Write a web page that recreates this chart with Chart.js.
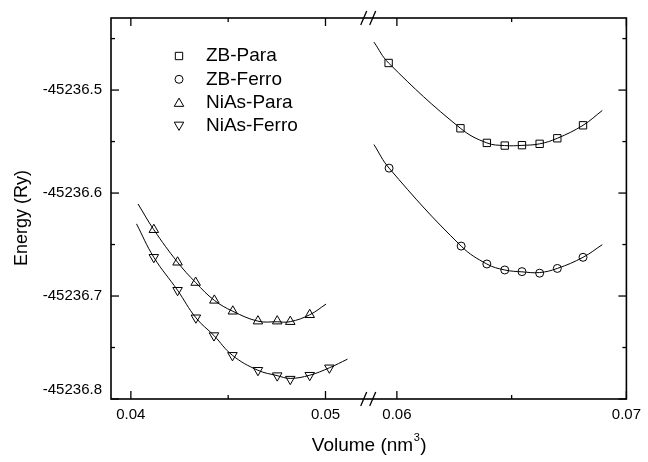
<!DOCTYPE html>
<html><head><meta charset="utf-8">
<script src="https://cdn.jsdelivr.net/npm/chart.js@4.4.1/dist/chart.umd.min.js"></script>
<style>html,body{margin:0;padding:0;background:#fff}</style>
</head><body>
<canvas id="c" width="648" height="462"></canvas>
<script>
// ---- data ----
const seriesNames = ['ZB-Para', 'ZB-Ferro', 'NiAs-Para', 'NiAs-Ferro'];

const zbParaV  = [0.05964, 0.06277, 0.06392, 0.06470, 0.06545, 0.06622, 0.06699, 0.06811];
const zbParaE  = [-45236.4737, -45236.5371, -45236.5513, -45236.5539, -45236.5535, -45236.5522, -45236.5468, -45236.5342];
const zbFerroV = [0.05966, 0.06280, 0.06392, 0.06470, 0.06545, 0.06622, 0.06699, 0.06811];
const zbFerroE = [-45236.5758, -45236.6515, -45236.6689, -45236.6747, -45236.6763, -45236.6778, -45236.6732, -45236.6624];
const niasParaV  = [0.04118, 0.04240, 0.04333, 0.04429, 0.04524, 0.04653, 0.04752, 0.04819, 0.04919];
const niasParaE  = [-45236.6356, -45236.6672, -45236.6869, -45236.7042, -45236.7148, -45236.7244, -45236.7244, -45236.7249, -45236.7182];
const niasFerroV = [0.04118, 0.04240, 0.04334, 0.04427, 0.04522, 0.04653, 0.04752, 0.04819, 0.04919, 0.05020];
const niasFerroE = [-45236.6624, -45236.6944, -45236.7211, -45236.7384, -45236.7576, -45236.7721, -45236.7773, -45236.7807, -45236.7769, -45236.7697];

// fitted curves
const zbParaFitV  = [0.05900, 0.05964, 0.06277, 0.06392, 0.06470, 0.06545, 0.06622, 0.06699, 0.06811, 0.06895];
const zbParaFitE  = [-45236.4534, -45236.4737, -45236.5371, -45236.5513, -45236.5539, -45236.5537, -45236.5522, -45236.5468, -45236.5342, -45236.5198];
const zbFerroFitV = [0.05900, 0.05966, 0.06280, 0.06392, 0.06470, 0.06545, 0.06622, 0.06699, 0.06811, 0.06895];
const zbFerroFitE = [-45236.5529, -45236.5758, -45236.6515, -45236.6689, -45236.6747, -45236.6765, -45236.6772, -45236.6732, -45236.6624, -45236.6501];
const niasParaFitV  = [0.04037, 0.04118, 0.04240, 0.04333, 0.04429, 0.04524, 0.04653, 0.04752, 0.04819, 0.04919, 0.05003];
const niasParaFitE  = [-45236.6106, -45236.6356, -45236.6672, -45236.6869, -45236.7042, -45236.7148, -45236.7244, -45236.7250, -45236.7249, -45236.7182, -45236.7078];
const niasFerroFitV = [0.04029, 0.04118, 0.04240, 0.04334, 0.04427, 0.04522, 0.04653, 0.04752, 0.04819, 0.04919, 0.05020, 0.05113];
const niasFerroFitE = [-45236.6299, -45236.6624, -45236.6944, -45236.7211, -45236.7384, -45236.7576, -45236.7721, -45236.7773, -45236.7800, -45236.7769, -45236.7697, -45236.7613];

// axes / ticks
const yMajorTicks = [-45236.8, -45236.7, -45236.6, -45236.5];
const yMinorTicks = [-45236.75, -45236.65, -45236.55, -45236.45];
const xLeftTicks  = [0.04, 0.05];
const xLeftMinor  = [0.045];
const xRightTicks = [0.06, 0.07];
const xRightMinor = [0.065];
const xTitle = 'Volume (nm';
const xTitleSup = '3';
const yTitle = 'Energy (Ry)';

const pts = (xs, ys) => xs.map((v, i) => ({x: v, y: ys[i]}));

const FONT = '"Liberation Sans", Arial, sans-serif';
const INK = '#000';

const markerDefs = [
  {pointStyle: 'rect', radius: 5.2, rotation: 0},
  {pointStyle: 'circle', radius: 4, rotation: 0},
  {pointStyle: 'triangle', radius: 5.5, rotation: 0},
  {pointStyle: 'triangle', radius: 5.5, rotation: 180}
];

function markerDataset(label, data, axis, m) {
  return {
    label, data, xAxisID: axis, yAxisID: 'y', showLine: false,
    pointStyle: m.pointStyle, pointRadius: m.radius, pointRotation: m.rotation,
    pointBorderColor: INK, pointBackgroundColor: 'rgba(0,0,0,0)', pointBorderWidth: 1,
    pointHoverRadius: m.radius, order: 1
  };
}
function fitDataset(label, data, axis) {
  return {
    label, data, xAxisID: axis, yAxisID: 'y', showLine: true, pointRadius: 0,
    borderColor: INK, borderWidth: 1, tension: 0.4, fill: false, order: 2
  };
}

const decor = {
  id: 'decor',
  afterDraw(chart) {
    const {ctx, chartArea: a, scales} = chart;
    const y = scales.y, x1 = scales.x1, x2 = scales.x2;
    ctx.save();
    ctx.strokeStyle = INK;
    const seg = (ax, ay, bx, by) => { ctx.beginPath(); ctx.moveTo(ax, ay); ctx.lineTo(bx, by); ctx.stroke(); };
    // frame
    ctx.lineWidth = 1.6;
    ctx.strokeRect(a.left, a.top, a.right - a.left, a.bottom - a.top);
    // inward ticks
    ctx.lineWidth = 1.3;
    yMajorTicks.forEach(v => { const p = y.getPixelForValue(v); seg(a.left, p, a.left + 8, p); seg(a.right, p, a.right - 8, p); });
    yMinorTicks.forEach(v => { const p = y.getPixelForValue(v); seg(a.left, p, a.left + 4, p); seg(a.right, p, a.right - 4, p); });
    const xt = (sc, vals, len) => vals.forEach(v => { const p = sc.getPixelForValue(v); seg(p, a.bottom, p, a.bottom - len); seg(p, a.top, p, a.top + len); });
    xt(x1, xLeftTicks, 8); xt(x1, xLeftMinor, 4); xt(x2, xRightTicks, 8); xt(x2, xRightMinor, 4);
    // axis break marks
    const bx = x1.right;
    ctx.lineWidth = 1.3;
    [a.top, a.bottom].forEach(yy => {
      [-5, 4].forEach(dx => seg(bx + dx - 3, yy + 7, bx + dx + 3, yy - 7));
    });
    // axis titles
    ctx.fillStyle = INK;
    ctx.textBaseline = 'middle';
    ctx.font = '19px ' + FONT;
    const w1 = ctx.measureText(xTitle).width;
    ctx.font = '11px ' + FONT;
    const w2 = ctx.measureText(xTitleSup).width;
    ctx.font = '19px ' + FONT;
    const w3 = ctx.measureText(')').width;
    const cx = (a.left + a.right) / 2;
    let sx = cx - (w1 + w2 + w3) / 2;
    const ty = 446;
    ctx.textAlign = 'left';
    ctx.fillText(xTitle, sx, ty);
    ctx.font = '11px ' + FONT;
    ctx.fillText(xTitleSup, sx + w1 + 0.5, ty - 8);
    ctx.font = '19px ' + FONT;
    ctx.fillText(')', sx + w1 + w2 + 1, ty);
    ctx.font = '18px ' + FONT;
    ctx.save();
    ctx.translate(22, 218);
    ctx.rotate(-Math.PI / 2);
    ctx.textAlign = 'center';
    ctx.fillText(yTitle, 0, 0);
    ctx.restore();
    // legend
    const lx = 179, tx = 206, ly0 = 56, dy = 23.3;
    seriesNames.forEach((name, i) => {
      const m = markerDefs[i];
      const yy = ly0 + i * dy;
      ctx.fillStyle = 'rgba(0,0,0,0)';
      ctx.strokeStyle = INK;
      ctx.lineWidth = 1;
      Chart.helpers.drawPoint(ctx, {pointStyle: m.pointStyle, radius: m.radius, rotation: m.rotation, borderWidth: 1}, lx, yy + (m.pointStyle === 'triangle' ? (m.rotation ? -1 : 1) : 0));
      ctx.fillStyle = INK;
      ctx.font = '19px ' + FONT;
      ctx.textAlign = 'left';
      ctx.textBaseline = 'middle';
      ctx.fillText(name, tx, yy);
    });
    ctx.restore();
  }
};

const xTickOpts = {
  font: {family: FONT, size: 15}, color: INK, padding: 7, maxRotation: 0, autoSkip: false,
  callback: v => Number(v).toFixed(2)
};

new Chart(document.getElementById('c'), {
  type: 'scatter',
  data: {
    datasets: [
      fitDataset(seriesNames[0] + ' fit', pts(zbParaFitV, zbParaFitE), 'x2'),
      fitDataset(seriesNames[1] + ' fit', pts(zbFerroFitV, zbFerroFitE), 'x2'),
      fitDataset(seriesNames[2] + ' fit', pts(niasParaFitV, niasParaFitE), 'x1'),
      fitDataset(seriesNames[3] + ' fit', pts(niasFerroFitV, niasFerroFitE), 'x1'),
      markerDataset(seriesNames[0], pts(zbParaV, zbParaE), 'x2', markerDefs[0]),
      markerDataset(seriesNames[1], pts(zbFerroV, zbFerroE), 'x2', markerDefs[1]),
      markerDataset(seriesNames[2], pts(niasParaV, niasParaE), 'x1', markerDefs[2]),
      markerDataset(seriesNames[3], pts(niasFerroV, niasFerroE), 'x1', markerDefs[3])
    ]
  },
  options: {
    responsive: false,
    animation: false,
    devicePixelRatio: 1,
    layout: {padding: {left: 0, top: 14, right: 16, bottom: 0}},
    plugins: {legend: {display: false}, tooltip: {enabled: false}},
    events: [],
    scales: {
      x1: {
        type: 'linear', position: 'bottom', stack: 'xs', stackWeight: 1,
        min: 0.03898, max: 0.05222,
        afterBuildTicks: s => { s.ticks = xLeftTicks.map(v => ({value: v})); },
        afterFit: s => { s.height = 63; },
        ticks: xTickOpts,
        grid: {display: false, drawTicks: false}, border: {display: false}
      },
      x2: {
        type: 'linear', position: 'bottom', stack: 'xs', stackWeight: 1,
        min: 0.058772, max: 0.07,
        afterBuildTicks: s => { s.ticks = xRightTicks.map(v => ({value: v})); },
        afterFit: s => { s.height = 63; },
        ticks: xTickOpts,
        grid: {display: false, drawTicks: false}, border: {display: false}
      },
      y: {
        type: 'linear', position: 'left',
        min: -45236.8, max: -45236.43,
        afterBuildTicks: s => { s.ticks = yMajorTicks.map(v => ({value: v})); },
        afterFit: s => { s.width = 111; },
        ticks: {
          font: {family: FONT, size: 15}, color: INK, padding: 9, autoSkip: false,
          callback: v => (Math.abs(v - yMajorTicks[0]) < 1e-6) ? [Number(v).toFixed(1), ''] : Number(v).toFixed(1)
        },
        grid: {display: false, drawTicks: false}, border: {display: false}
      }
    }
  },
  plugins: [decor]
});
</script>
</body></html>
